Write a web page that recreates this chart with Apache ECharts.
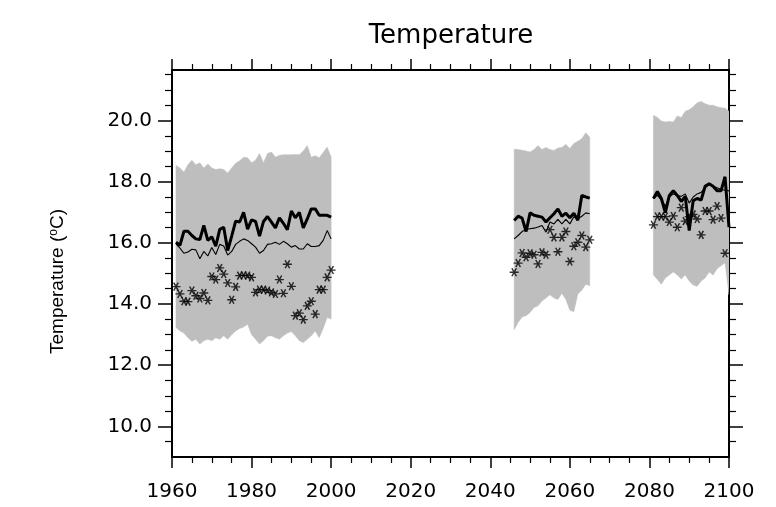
<!DOCTYPE html>
<html>
<head>
<meta charset="utf-8">
<script src="https://cdn.jsdelivr.net/npm/echarts@6/dist/echarts.min.js"></script>
<style>html,body{margin:0;padding:0;background:#fff}#c{width:776px;height:507px}</style>
</head>
<body>
<div id="c"></div>
<script>
function range(a, b) { const r = []; for (let y = a; y <= b; y++) r.push(y); return r; }

// ---- categories (years) ----
const years1 = range(1961, 2000);
const years2 = range(2046, 2065);
const years3 = range(2081, 2100);

// ---- period 1 (1961-2000) ----
const upper1 = [18.53,18.45,18.31,18.55,18.70,18.55,18.62,18.45,18.58,18.45,18.40,18.42,18.40,18.28,18.45,18.60,18.68,18.80,18.78,18.62,18.70,18.92,18.62,18.92,18.97,18.80,18.86,18.88,18.88,18.88,18.89,18.88,19.00,19.18,18.80,18.85,18.78,18.95,19.13,18.80];
const lower1 = [13.23,13.12,13.05,12.90,12.78,12.85,12.69,12.80,12.85,12.80,12.90,12.85,12.96,12.85,13.00,13.12,13.20,13.25,13.34,13.00,12.85,12.69,12.80,12.95,12.96,12.90,12.85,12.96,13.05,13.10,12.96,12.80,12.74,12.85,12.96,13.12,12.90,13.20,13.56,13.51];
const thick1 = [16.02,15.92,16.38,16.38,16.24,16.13,16.11,16.57,16.08,16.20,15.89,16.44,16.51,15.75,16.22,16.71,16.68,17.00,16.45,16.75,16.70,16.22,16.70,16.86,16.68,16.49,16.82,16.64,16.43,17.04,16.82,17.00,16.49,16.78,17.11,17.11,16.90,16.90,16.90,16.84];
const thin1 = [15.97,15.83,15.66,15.70,15.79,15.77,15.48,15.72,15.57,15.85,15.62,15.95,15.90,15.60,15.72,15.95,16.05,16.13,16.08,15.97,15.86,15.66,15.75,15.95,15.97,16.02,15.95,16.05,15.97,15.86,15.91,15.80,15.80,15.97,15.88,15.88,15.91,16.08,16.40,16.13];
const obs1 = [14.57,14.33,14.09,14.08,14.44,14.27,14.18,14.36,14.12,14.90,14.80,15.18,14.98,14.69,14.14,14.56,14.93,14.94,14.93,14.87,14.38,14.47,14.47,14.44,14.38,14.33,14.80,14.35,15.30,14.58,13.62,13.70,13.49,13.94,14.09,13.67,14.47,14.47,14.87,15.11];

// ---- period 2 (2046-2065) ----
const upper2 = [19.06,19.05,19.03,19.00,18.97,19.05,19.18,19.05,19.12,19.05,19.02,19.10,19.12,19.22,19.08,19.25,19.32,19.40,19.60,19.45];
const lower2 = [13.16,13.40,13.58,13.62,13.72,13.89,13.94,14.10,14.20,14.30,14.20,14.15,14.35,14.15,13.80,13.75,14.33,14.45,14.65,14.60];
const thick2 = [16.73,16.87,16.81,16.37,16.98,16.90,16.87,16.84,16.68,16.82,16.95,17.11,16.87,16.97,16.82,16.97,16.74,17.55,17.50,17.46];
const thin2 = [16.13,16.24,16.37,16.44,16.46,16.48,16.52,16.57,16.35,16.68,16.62,16.77,16.62,16.77,16.62,16.85,16.79,16.87,16.98,16.95];
const obs2 = [15.04,15.34,15.67,15.53,15.66,15.61,15.31,15.69,15.61,16.43,16.18,15.71,16.18,16.37,15.39,15.89,16.02,16.24,15.86,16.10];

// ---- period 3 (2081-2100) ----
const upper3 = [20.17,20.10,19.98,19.95,19.97,19.95,20.15,20.10,20.30,20.35,20.45,20.58,20.62,20.55,20.50,20.50,20.45,20.42,20.40,20.30];
const lower3 = [14.95,14.80,14.65,14.85,14.95,15.05,14.95,14.82,14.95,14.75,14.62,14.58,14.75,14.85,15.05,14.95,15.15,15.25,15.35,14.30];
const thick3 = [17.45,17.68,17.45,16.99,17.55,17.70,17.55,17.35,17.52,16.40,17.38,17.45,17.40,17.85,17.93,17.85,17.70,17.70,18.16,16.51];
const thin3 = [17.45,17.55,17.40,17.20,17.50,17.60,17.55,17.52,17.60,17.30,17.50,17.60,17.65,17.80,17.90,17.85,17.80,17.75,17.72,17.70];
const obs3 = [16.59,16.86,16.86,16.86,16.68,16.88,16.51,17.15,16.71,16.86,16.93,16.78,16.26,17.04,17.04,16.76,17.20,16.81,15.66,null];

// ---- tick labels ----
const xTicks = [1960, 1980, 2000, 2020, 2040, 2060, 2080, 2100];
const yMajorTicks = [10, 12, 14, 16, 18, 20];
const yMinorTicks = [9.5,10.5,11,11.5,12.5,13,13.5,14.5,15,15.5,16.5,17,17.5,18.5,19,19.5,20.5,21,21.5];

const FONT = 'DejaVu Sans';
const NAME_FONT = 'Liberation Sans';
const BAND = '#bebebe';
const STAR = 'path://M-5,0L5,0M-2.5,-4.33L2.5,4.33M-2.5,4.33L2.5,-4.33';

const periods = [
  { years: years1, upper: upper1, lower: lower1, thick: thick1, thin: thin1, obs: obs1 },
  { years: years2, upper: upper2, lower: lower2, thick: thick2, thin: thin2, obs: obs2 },
  { years: years3, upper: upper3, lower: lower3, thick: thick3, thin: thin3, obs: obs3 }
];

function bandRenderer(n) {
  return function (params, api) {
    if (params.dataIndexInside !== 0) return null;
    const top = [], bot = [];
    for (let k = 0; k < n; k++) {
      const x = api.value(0, k);
      top.push(api.coord([x, api.value(2, k)]));
      bot.push(api.coord([x, api.value(1, k)]));
    }
    const pts = top.concat(bot.reverse());
    return { type: 'polygon', shape: { points: pts }, style: { fill: BAND, stroke: BAND, lineWidth: 0.5 } };
  };
}

const series = [];
periods.forEach((p) => {
  series.push({ type: 'custom', data: p.years.map((y, j) => [y, p.lower[j], p.upper[j]]),
    encode: { x: 0, y: [1, 2] }, renderItem: bandRenderer(p.years.length), silent: true, z: 1, clip: true });
  series.push({ type: 'line', data: p.years.map((y, j) => [y, p.thin[j]]), symbol: 'none',
    lineStyle: { color: '#000', width: 1.1 }, z: 3 });
  series.push({ type: 'line', data: p.years.map((y, j) => [y, p.thick[j]]), symbol: 'none',
    lineStyle: { color: '#000', width: 3 }, z: 4 });
  series.push({ type: 'scatter', data: p.years.map((y, j) => [y, p.obs[j]]).filter(d => d[1] != null),
    symbol: STAR, symbolSize: [9, 8],
    itemStyle: { color: 'transparent', borderColor: '#000', borderWidth: 1.4 }, z: 5 });
});

const lineS = { color: '#000', width: 2 };
const tickS = { color: '#000', width: 1.5 };
const minorS = { color: '#000', width: 1.2 };
const yMin = 9, yMax = 21.65;

function xAxisCfg(pos, showLabels) {
  return {
    type: 'value', position: pos, min: 1960, max: 2100, interval: 20,
    axisLine: { show: true, onZero: false, lineStyle: lineS },
    axisTick: { show: true, inside: false, length: 11, lineStyle: tickS },
    minorTick: { show: true, splitNumber: 4, length: 6, lineStyle: minorS },
    splitLine: { show: false }, minorSplitLine: { show: false },
    axisLabel: { show: showLabels, color: '#000', fontFamily: FONT, fontSize: 20, margin: 25,
      showMinLabel: true, showMaxLabel: true,
      formatter: v => (xTicks.indexOf(v) >= 0 ? String(v) : '') }
  };
}
function yAxisCfg(pos, major, showLabels) {
  const vals = major ? yMajorTicks : yMinorTicks;
  return {
    type: 'value', position: pos, min: yMin, max: yMax,
    axisLine: { show: true, onZero: false, lineStyle: lineS },
    axisTick: { show: true, inside: false, length: major ? 14 : 7, customValues: vals, lineStyle: major ? tickS : minorS },
    splitLine: { show: false },
    axisLabel: { show: showLabels, customValues: vals, color: '#000', fontFamily: FONT, fontSize: 20, margin: 20,
      formatter: v => v.toFixed(1) }
  };
}

const yLeft = yAxisCfg('left', true, true);
yLeft.name = '{a|Temperature (}{sup|o}{a|C)}';
yLeft.nameLocation = 'middle';
yLeft.nameRotate = 90;
yLeft.nameGap = 105;
yLeft.nameTextStyle = {
  padding: [0, 36, 0, 0],
  rich: {
    a: { fontFamily: NAME_FONT, fontSize: 19, color: '#000' },
    sup: { fontFamily: NAME_FONT, fontSize: 12, color: '#000', verticalAlign: 'top' }
  }
};

const chart = echarts.init(document.getElementById('c'), null, { renderer: 'canvas' });
chart.setOption({
  animation: false,
  backgroundColor: '#fff',
  grid: { left: 172, right: 47, top: 70, bottom: 50, containLabel: false },
  graphic: [{
    type: 'text', x: 451, y: 36,
    style: { text: 'Temperature', fontFamily: FONT, fontSize: 26, fill: '#000',
      align: 'center', verticalAlign: 'middle', textAlign: 'center', textVerticalAlign: 'middle' }
  }],
  xAxis: [xAxisCfg('bottom', true), xAxisCfg('top', false)],
  yAxis: [yLeft, yAxisCfg('left', false, false), yAxisCfg('right', true, false), yAxisCfg('right', false, false)],
  series: series
});
</script>
</body>
</html>
